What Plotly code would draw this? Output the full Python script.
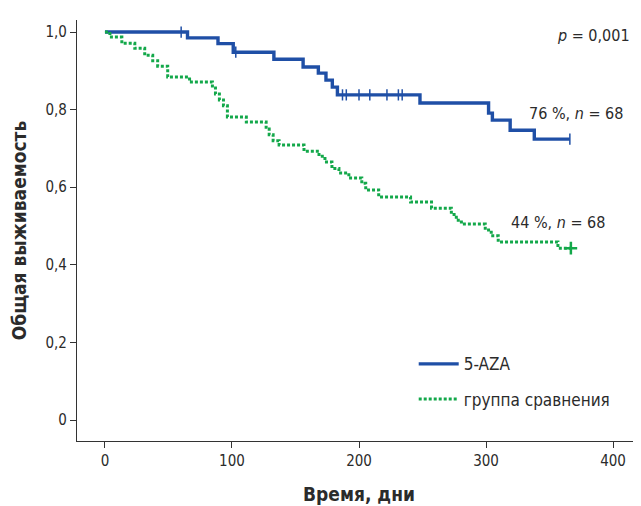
import plotly.graph_objects as go

# Kaplan-Meier step data
aza_days = [0, 65, 89, 101, 133, 156, 168, 174, 179, 183, 248, 302, 305, 319, 338, 366]
aza_surv = [1.0, 0.985, 0.97, 0.948, 0.93, 0.91, 0.894, 0.876, 0.858, 0.838, 0.817, 0.791, 0.773, 0.747, 0.724, 0.724]
aza_cens_days = [60, 103, 187, 190, 200, 208.5, 222, 231, 234, 366]
aza_cens_surv = [1.0, 0.948, 0.838, 0.838, 0.838, 0.838, 0.838, 0.838, 0.838, 0.724]

ctl_days = [0, 3.9, 13.3, 23.5, 31.3, 37.6, 41.5, 49.4, 66.6, 84.6, 87.0, 90.1, 93.3, 96.4,
            111.3, 126.9, 129.3, 132.4, 137.1, 156.7, 168.5, 173.2, 178.7, 184.2, 192.0,
            202.2, 205.3, 215.5, 240.6, 257.1, 272.7, 276.6, 280.6, 299.4, 304.1, 309.6,
            356.6, 366.8]
ctl_surv = [1.0, 0.987, 0.971, 0.958, 0.94, 0.926, 0.912, 0.884, 0.871, 0.856, 0.84, 0.825,
            0.81, 0.781, 0.768, 0.75, 0.735, 0.72, 0.709, 0.693, 0.68, 0.665, 0.648, 0.637,
            0.624, 0.61, 0.593, 0.575, 0.562, 0.546, 0.53, 0.515, 0.505, 0.49, 0.475, 0.459,
            0.443, 0.443]
ctl_cens_days = [366.8]
ctl_cens_surv = [0.443]

x_ticks = [0, 100, 200, 300, 400]
y_ticks = [0, 0.2, 0.4, 0.6, 0.8, 1.0]
y_labels = ["0", "0,2", "0,4", "0,6", "0,8", "1,0"]

BLUE = "#1f4fa6"
GREEN = "#13a84a"
FONT = "Liberation Sans Narrow, DejaVu Sans Condensed, sans-serif"
TXT = "#2b2b2b"

fig = go.Figure()
fig.add_trace(go.Scatter(x=aza_days, y=aza_surv, mode="lines", line_shape="hv", legendgroup="a",
                         line=dict(color=BLUE, width=3.4), name="5-AZA"))
fig.add_trace(go.Scatter(x=ctl_days, y=ctl_surv, mode="lines", line_shape="hv", legendgroup="b",
                         line=dict(color=GREEN, width=3, dash="3px,2px"), name="группа сравнения"))
fig.add_trace(go.Scatter(x=aza_cens_days, y=aza_cens_surv, mode="markers", showlegend=False,
                         marker=dict(symbol="line-ns", size=8, line=dict(color=BLUE, width=1.5))))
fig.add_trace(go.Scatter(x=ctl_cens_days, y=ctl_cens_surv, mode="markers", showlegend=False,
                         marker=dict(symbol="cross-thin", size=9, line=dict(color=GREEN, width=2.5))))

fig.add_annotation(x=415, y=0.992, xref="x", yref="y", text="<i>p</i> = 0,001", showarrow=False,
                   xanchor="right", yanchor="middle", font=dict(family=FONT, size=16, color=TXT))
fig.add_annotation(x=332, y=0.789, xref="x", yref="y", text="76 %, <i>n</i> = 68", showarrow=False,
                   xanchor="left", yanchor="middle", font=dict(family=FONT, size=16, color=TXT))
fig.add_annotation(x=318, y=0.51, xref="x", yref="y", text="44 %, <i>n</i> = 68", showarrow=False,
                   xanchor="left", yanchor="middle", font=dict(family=FONT, size=16, color=TXT))

# page body has an 8px default margin, so the figure is drawn 8px smaller and offset
fig.update_layout(
    width=633, height=498,
    margin=dict(l=69, r=0, t=12, b=65),
    paper_bgcolor="white", plot_bgcolor="white",
    font=dict(family=FONT, size=15, color=TXT),
    showlegend=True,
    legend=dict(x=0.597, y=0.225, xanchor="left", yanchor="top",
                font=dict(family=FONT, size=17, color=TXT), bgcolor="rgba(0,0,0,0)",
                tracegroupgap=10, itemwidth=40),
    xaxis=dict(range=[-22, 422], tickvals=x_ticks, ticks="outside", ticklen=6, tickcolor="#333",
               showline=True, linecolor="#333", linewidth=1.2, showgrid=False, zeroline=False,
               automargin=False,
               tickfont=dict(family=FONT, size=15, color=TXT),
               title=dict(text="<b>Время, дни</b>", font=dict(family=FONT, size=19, color=TXT), standoff=18)),
    yaxis=dict(range=[-0.054, 1.031], tickvals=y_ticks, ticktext=y_labels, ticks="outside", ticklen=6,
               tickcolor="#333", showline=True, linecolor="#333", linewidth=1.2, showgrid=False,
               zeroline=False, automargin=False, tickfont=dict(family=FONT, size=15, color=TXT),
               title=dict(text="<b>Общая выживаемость</b>", font=dict(family=FONT, size=19, color=TXT), standoff=14)),
)

fig.write_html("out.html")
